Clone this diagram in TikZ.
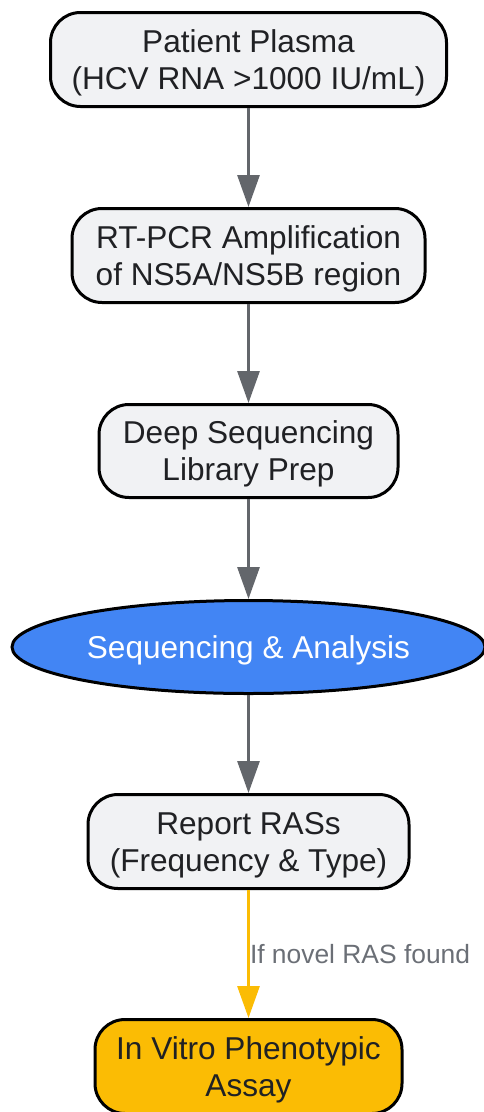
\documentclass[tikz,border=0pt]{standalone}
\usepackage{fontspec}
\setmainfont{Liberation Sans}
\usetikzlibrary{shapes.geometric,arrows.meta,positioning}

\definecolor{boxgray}{HTML}{F1F2F4}
\definecolor{textdark}{HTML}{202124}
\definecolor{arrowgray}{HTML}{63666B}
\definecolor{seqblue}{HTML}{4285F4}
\definecolor{assayyellow}{HTML}{FBBC04}
\definecolor{labelgray}{HTML}{6B6F76}

\begin{document}
\begin{tikzpicture}[
    x=1pt, y=1pt,
    node distance=99pt,
    stepbox/.style={rectangle, draw=black, line width=3pt, fill=boxgray, text=textdark, minimum height=94pt, inner sep=0pt, text depth=0pt, align=center, rounded corners=30pt, font=\fontsize{31.6}{37}\selectfont},
    seqnode/.style={ellipse, draw=black, line width=3pt, fill=seqblue, text=white, minimum width=473pt, minimum height=93pt, inner sep=0pt, text depth=0pt, font=\fontsize{31.6}{37}\selectfont},
    arrow/.style={-{Triangle[length=32pt, width=22pt]}, line width=3pt, draw=arrowgray},
    condarrow/.style={-{Triangle[length=32pt, width=22pt]}, line width=3pt, draw=assayyellow},
    condlabel/.style={anchor=west, inner sep=0pt, text=labelgray, font=\fontsize{26.4}{30}\selectfont}
]

% Fixed page size
\useasboundingbox (0,0) rectangle (484,-1112);

% Patient Plasma
\node[stepbox, minimum width=396pt] (plasma) at (248.5,-59.5) {
    Patient Plasma\\
    (HCV RNA >1000 IU/mL)
};

% RT-PCR Amplification
\node[stepbox, minimum width=353pt, below=of plasma] (rtpcr) {
    RT-PCR Amplification\\
    of NS5A/NS5B region
};

% Library Prep
\node[stepbox, minimum width=299pt, minimum height=93pt, below=of rtpcr] (libprep) {
    Deep Sequencing\\
    Library Prep
};

% Sequencing & Analysis
\node[seqnode, below=100pt of libprep] (seq) {Sequencing \& Analysis};

% Report RASs
\node[stepbox, minimum width=321pt, below=98pt of seq] (report) {
    Report RASs\\
    (Frequency \& Type)
};

% In Vitro Phenotypic Assay
\node[stepbox, minimum width=307pt, fill=assayyellow, below=128pt of report] (assay) {
    In Vitro Phenotypic\\
    Assay
};

% Arrows
\draw[arrow] (plasma.south) -- (rtpcr.north);
\draw[arrow] (rtpcr.south) -- (libprep.north);
\draw[arrow] (libprep.south) -- (seq.north);
\draw[arrow] (seq.south) -- (report.north);
\draw[condarrow] (report.south) -- node[condlabel] (novel) {If novel RAS found} (assay.north);

\end{tikzpicture}
\end{document}
